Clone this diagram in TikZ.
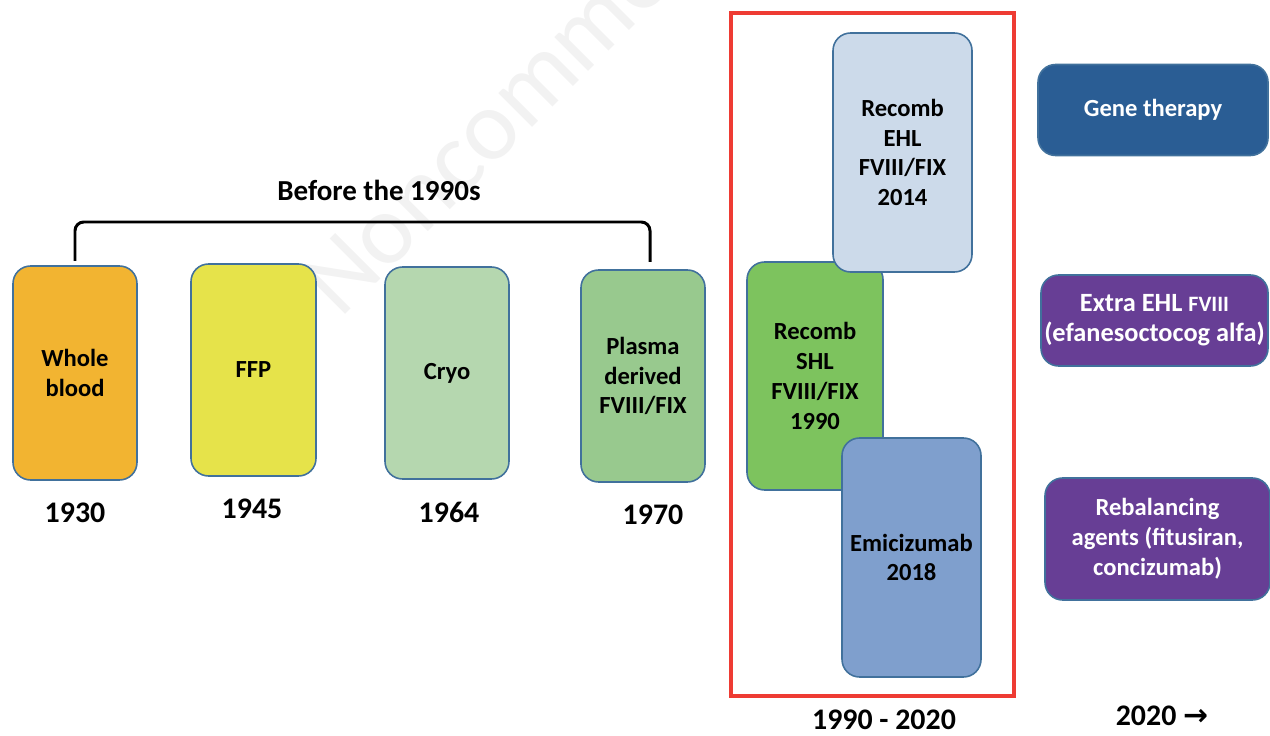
\documentclass[tikz,border=0pt]{standalone}
\usepackage{fontspec}
\setmainfont{Carlito}
\newfontfamily\arrowfont{DejaVu Sans}
\usetikzlibrary{calc}
\definecolor{edgecol}{HTML}{41719C}
\definecolor{wbcol}{HTML}{F2B431}
\definecolor{ffpcol}{HTML}{E6E34A}
\definecolor{cryocol}{HTML}{B5D7AF}
\definecolor{pdcol}{HTML}{98C98E}
\definecolor{ehlcol}{HTML}{CCDAEA}
\definecolor{shlcol}{HTML}{7DC35E}
\definecolor{emicol}{HTML}{7F9FCD}
\definecolor{genecol}{HTML}{2A5D94}
\definecolor{purplecol}{HTML}{673E95}
\definecolor{framecol}{HTML}{EE3B33}
\tikzstyle{era}=[draw=edgecol,line width=0.9pt,rounded corners=10pt,inner sep=0pt,
  align=center,font=\fontsize{14}{17}\selectfont\bfseries,text=black]
\tikzstyle{future}=[era,text=white,font=\fontsize{14}{17}\selectfont\bfseries]
\tikzstyle{year}=[font=\fontsize{17}{20}\selectfont\bfseries]
\tikzset{
  box/.style 2 args={era,minimum width=#1*0.02cm,minimum height=#2*0.02cm}}

\begin{document}
\begin{tikzpicture}[x=0.02cm,y=-0.02cm]
  \useasboundingbox (0,0) rectangle (1270,736);
  % WATERMARK
  \begin{scope}
    \clip (0,0) rectangle (1270,736);
    \node[black!5,rotate=45,font=\fontsize{57}{57}\selectfont,anchor=base west,inner sep=0pt] (wm) at (340,320) {Noncommercial};
  \end{scope}

  % BEFORE THE 1990s
  \node[box={124}{214},fill=wbcol] (whole) at (75,373) {Whole\\blood};
  \node[box={125}{212},fill=ffpcol] (ffp) at (253.5,370) {FFP};
  \node[box={124}{212},fill=cryocol] (cryo) at (447,373) {Cryo};
  \node[box={124}{212},fill=pdcol] (plasma) at (643,376) {Plasma\\derived\\FVIII/FIX};
  \node[year] (y1930) at (75,513) {1930};
  \node[year] (y1945) at (252,509) {1945};
  \node[year] (y1964) at (449,512) {1964};
  \node[year] (y1970) at (653,515) {1970};
  \coordinate (bracketL) at (75,261);
  \coordinate (bracketR) at (650,262);
  \draw[line width=1.7pt,rounded corners=5pt] (bracketL) -- ++(0,-39) coordinate (bracketT) -| (bracketR);
  \node[font=\fontsize{16.5}{20}\selectfont\bfseries] (before) at (379,190) {Before the 1990s};

  % 1990 - 2020
  \node[box={136}{228},fill=shlcol] (shl) at (815,376) {Recomb\\SHL\\FVIII/FIX\\1990};
  \node[box={139}{239},fill=ehlcol] (ehl) at (902.5,152.5) {Recomb\\EHL\\FVIII/FIX\\2014};
  \node[box={139}{239},fill=emicol] (emi) at (911.5,557.5) {Emicizumab\\2018};
  \draw[framecol,line width=2.2pt] (731,13) rectangle (1014,696);
  \node[year] (y1990) at (884,720) {1990 - 2020};

  % 2020 ->
  \node[box={230}{91},fill=genecol,future] (gene) at (1153,110) {Gene therapy};
  \node[box={227}{91},fill=purplecol,future,font=\fontsize{15}{17}\selectfont\bfseries] (extra) at (1154.5,320.5) {Extra EHL {\fontsize{12.5}{14}\selectfont FVIII}\\(efanesoctocog alfa)};
  \node[box={225}{122},fill=purplecol,future] (rebal) at (1157.5,539) {Rebalancing\\agents (fitusiran,\\concizumab)};
  \node[year] (y2020) at (1162,716) {2020 {\arrowfont\bfseries →}};
\end{tikzpicture}
\end{document}
